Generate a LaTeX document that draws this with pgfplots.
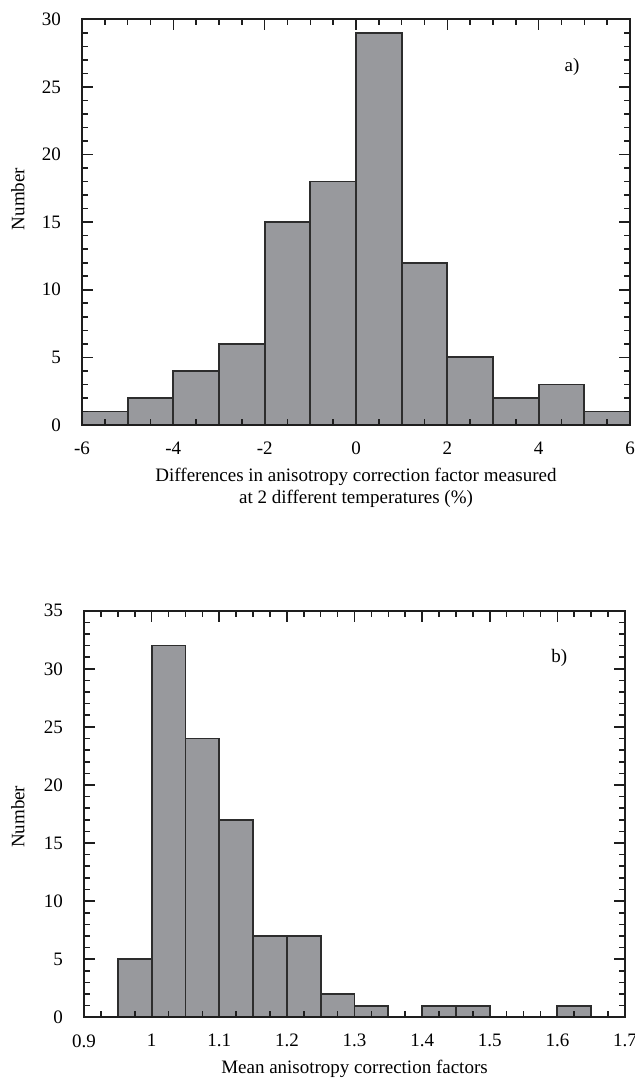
\documentclass[border=0pt]{standalone}
\usepackage{fontspec}
\setmainfont{Liberation Serif}
\usepackage{pgfplots}
\pgfplotsset{compat=1.18}
\definecolor{barfill}{RGB}{152,153,157}
\definecolor{baredge}{RGB}{45,45,45}
\definecolor{axcol}{RGB}{30,30,30}
\pgfplotsset{
  myax/.style={
    scale only axis,
    axis on top,
    axis line style={line width=1pt, draw=axcol},
    every tick/.style={line width=0.8pt, axcol},
    major tick length=5.5pt,
    minor tick length=3pt,
    tick align=inside,
    xtick pos=upper,
    xticklabel pos=lower,
    ytick pos=both,
    yticklabel pos=left,
    /pgf/number format/assume math mode=true,
    ticklabel style={font=\fontsize{9.5}{11}\selectfont},
    yticklabel style={xshift=-7pt},
    xticklabel style={yshift=-5pt},
    label style={font=\fontsize{9.5}{11}\selectfont},
    minor y tick num=4,
  },
  overlay/.style={
    scale only axis,
    axis line style={draw=none},
    every tick/.style={line width=0.8pt, axcol},
    major tick length=3pt,
    tick align=inside,
    xtick pos=lower,
    xticklabels={},
    ytick=\empty,
  },
  bars/.style={ybar interval, fill=barfill, draw=baredge, line width=0.9pt},
}
\begin{document}
\begin{tikzpicture}[x=1pt,y=1pt]
\useasboundingbox (0,0) rectangle (317.5,-539.5);
% ---------- a)
\begin{axis}[myax,
  at={(41pt,-212.5pt)}, anchor=south west,
  width=274pt, height=202.85pt,
  xmin=-6, xmax=6, ymin=0, ymax=30,
  xtick={-6,-4,...,6}, minor x tick num=3,
  ytick={0,5,...,30},
  xlabel={Differences in anisotropy correction factor measured\\at 2 different temperatures (\%)},
  xlabel style={align=center, at={(axis description cs:0.5,0)}, anchor=north, yshift=-18pt},
  ylabel={Number},
  ylabel style={at={(axis description cs:-0.117,0.557)}, anchor=center},
]
\addplot[bars] coordinates {(-6,1) (-5,2) (-4,4) (-3,6) (-2,15) (-1,18) (0,29) (1,12) (2,5) (3,2) (4,3) (5,1) (6,1)};
\node[font=\fontsize{9.5}{11}\selectfont] at (axis cs:4.73,26.5) {a)};
\end{axis}
\begin{axis}[overlay,
  at={(41pt,-212.5pt)}, anchor=south west,
  width=274pt, height=202.85pt,
  xmin=-6, xmax=6, ymin=0, ymax=30,
  xtick={-5.5,-4.5,...,5.5},
]
\addplot[draw=none, forget plot] coordinates {(0,0)};
\end{axis}
% ---------- b)
\begin{axis}[myax,
  at={(42pt,-508.65pt)}, anchor=south west,
  width=270.5pt, height=203.3pt,
  xmin=0.9, xmax=1.7, ymin=0, ymax=35,
  xtick={0.9,1,1.1,1.2,1.3,1.4,1.5,1.6,1.7}, minor x tick num=3,
  xticklabels={0.9,1,1.1,1.2,1.3,1.4,1.5,1.6,1.7},
  ytick={0,5,...,35},
  xlabel={Mean anisotropy correction factors},
  xlabel style={at={(axis description cs:0.5,0)}, anchor=north, yshift=-18pt},
  ylabel={Number},
  ylabel style={at={(axis description cs:-0.122,0.493)}, anchor=center},
]
\addplot[bars] coordinates {(0.95,5) (1.0,32) (1.05,24) (1.1,17) (1.15,7) (1.2,7) (1.25,2) (1.3,1) (1.35,1)};
\addplot[bars] coordinates {(1.4,1) (1.45,1) (1.5,1)};
\addplot[bars] coordinates {(1.6,1) (1.65,1)};
\node[font=\fontsize{9.5}{11}\selectfont] at (axis cs:1.603,30.9) {b)};
\end{axis}
\begin{axis}[overlay,
  at={(42pt,-508.65pt)}, anchor=south west,
  width=270.5pt, height=203.3pt,
  xmin=0.9, xmax=1.7, ymin=0, ymax=35,
  xtick={0.925,0.975,1.025,1.075,1.125,1.175,1.225,1.275,1.325,1.375,1.425,1.475,1.525,1.55,1.575,1.625,1.675},
]
\addplot[draw=none, forget plot] coordinates {(1,0)};
\end{axis}
\end{tikzpicture}
\end{document}
